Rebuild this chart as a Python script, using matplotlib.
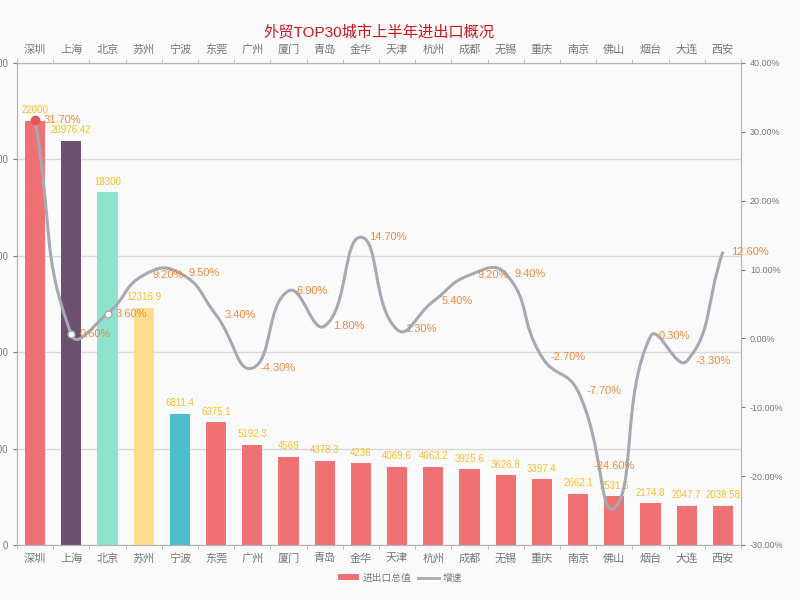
import numpy as np
import matplotlib.pyplot as plt
from matplotlib.path import Path
from matplotlib.patches import PathPatch, Patch
from matplotlib.lines import Line2D

plt.rcParams['font.family'] = ['Liberation Sans', 'Noto Sans CJK SC', 'DejaVu Sans']

cities = ['深圳', '上海', '北京', '苏州', '宁波', '东莞', '广州', '厦门', '青岛', '金华',
          '天津', '杭州', '成都', '无锡', '重庆', '南京', '佛山', '烟台', '大连', '西安']
totals = [22000, 20976.42, 18300, 12316.9, 6811.4, 6375.1, 5192.3, 4569, 4378.3, 4236,
          4069.6, 4063.2, 3925.6, 3626.8, 3397.4, 2662.1, 2531.6, 2174.8, 2047.7, 2038.58]
total_labels = ['22000', '20976.42', '18300', '12316.9', '6811.4', '6375.1', '5192.3', '4569',
                '4378.3', '4236', '4069.6', '4063.2', '3925.6', '3626.8', '3397.4', '2662.1',
                '2531.6', '2174.8', '2047.7', '2038.58']
growth = [31.7, 0.6, 3.6, 9.2, 9.5, 3.4, -4.3, 6.9, 1.8, 14.7,
          1.3, 5.4, 9.2, 9.4, -2.7, -7.7, -24.6, 0.3, -3.3, 12.6]

red = '#f07173'
bar_colors = [red, '#6b5070', '#8fe3cd', '#fdde8e', '#4fbecc'] + [red] * 15
grid_c = '#d9d9d9'
axis_c = '#b5b5b5'
text_c = '#777777'
line_c = '#a6a9b2'


def smooth_path(xs, ys, sx, sy, smooth=0.5):
    # echarts-like bezier smoothing, computed in pixel-like space
    P = np.column_stack([np.asarray(xs) * sx, np.asarray(ys) * sy])
    n = len(P)
    verts = [P[0]]
    codes = [Path.MOVETO]
    cps = []
    for i in range(n):
        p = P[i]
        prev = P[i - 1] if i > 0 else p
        nxt = P[i + 1] if i < n - 1 else p
        v = (nxt - prev) * smooth
        d0 = np.hypot(*(p - prev))
        d1 = np.hypot(*(p - nxt))
        s = d0 + d1
        if s:
            d0, d1 = d0 / s, d1 / s
        cps.append((p - v * d0, p + v * d1))
    for i in range(n - 1):
        verts += [cps[i][1], cps[i + 1][0], P[i + 1]]
        codes += [Path.CURVE4] * 3
    verts = np.array(verts)
    verts[:, 0] /= sx
    verts[:, 1] /= sy
    return Path(verts, codes)


fig = plt.figure(figsize=(8, 6), dpi=100, facecolor='#fafafa')
ax = fig.add_axes([17 / 800, 55 / 600, 724 / 800, 482 / 600])
ax.set_facecolor('#fafafa')
x = np.arange(len(cities))

ax.bar(x, totals, width=0.56, color=bar_colors, zorder=2)
for xi, v, lab in zip(x, totals, total_labels):
    ax.annotate(lab, (xi, v), xytext=(0, 4), textcoords='offset points',
                ha='center', va='bottom', fontsize=7, color='#f7bf2e', zorder=5)

ax.set_xlim(-0.5, len(cities) - 0.5)
ax.set_ylim(0, 25000)
ax.set_yticks(np.arange(0, 25001, 5000))
ax.tick_params(axis='y', labelsize=7, colors=text_c, length=3)
ax.yaxis.grid(True, color=grid_c, linewidth=1, zorder=0)
ax.set_xticks(x)
ax.set_xticklabels(cities)
ax.set_xticks(np.arange(-0.5, len(cities)), minor=True)
ax.tick_params(axis='x', which='major', length=0, labelsize=8, labelcolor=text_c,
               top=True, labeltop=True, pad=6)
ax.tick_params(axis='x', which='minor', length=3, color=axis_c, top=True)
for side in ax.spines.values():
    side.set_color(axis_c)

ax2 = ax.twinx()
ax2.set_ylim(-30, 40)
ax2.set_yticks(np.arange(-30, 41, 10))
ax2.set_yticklabels([f'{t:.2f}%' for t in np.arange(-30, 41, 10)])
ax2.tick_params(axis='y', labelsize=6.5, colors=text_c, length=3)
for side in ax2.spines.values():
    side.set_color(axis_c)

path = smooth_path(x, growth, 36.2, 6.886)
ax2.add_patch(PathPatch(path, facecolor='none', edgecolor=line_c, linewidth=2.2, zorder=3))
ax2.plot(x[0], growth[0], 'o', ms=6, mfc='#e0585b', mec='#e0585b', zorder=4)
ax2.plot(x[1:3], growth[1:3], 'o', ms=5, mfc='white', mec=line_c, zorder=4)
for i, (xi, g) in enumerate(zip(x, growth)):
    if cities[i] == '佛山':
        # this label sits above its point in the original
        ax2.annotate(f'{g:.2f}%', (xi, g), xytext=(0, 30), textcoords='offset points',
                     ha='center', va='center', fontsize=8, color='#f0883a', zorder=6)
    else:
        ax2.annotate(f'{g:.2f}%', (xi, g), xytext=(6, 0), textcoords='offset points',
                     ha='left', va='center', fontsize=8, color='#f0883a', zorder=6)

fig.text(0.474, 0.947, '外贸TOP30城市上半年进出口概况', ha='center', va='center',
         fontsize=11, color='#c8161d')

handles = [Patch(facecolor=red, edgecolor='none'),
           Line2D([0], [0], color=line_c, linewidth=2)]
fig.legend(handles, ['进出口总值', '增速'], loc='center', bbox_to_anchor=(0.5, 0.037),
           ncol=2, frameon=False, fontsize=7, labelcolor=text_c, handlelength=2.2,
           handleheight=0.6, columnspacing=0.6, handletextpad=0.4)

fig.savefig('out.png', dpi=100, facecolor=fig.get_facecolor())
